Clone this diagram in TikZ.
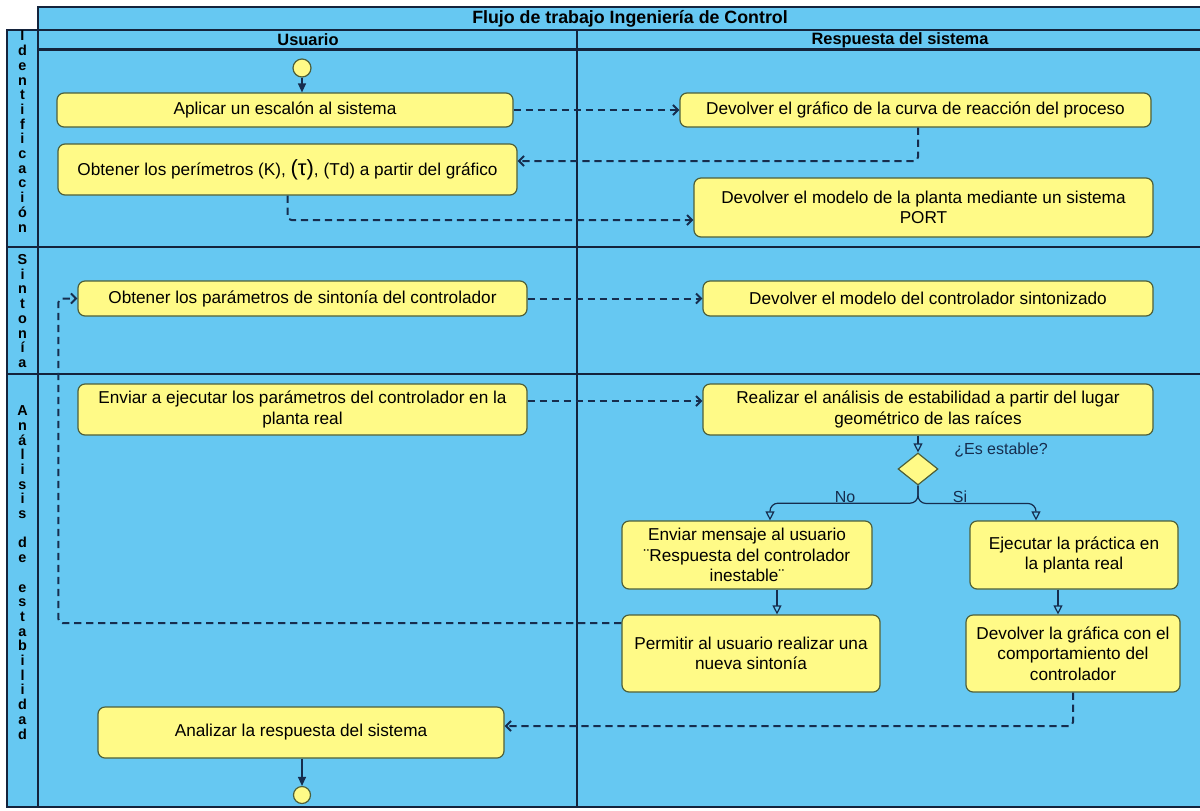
\documentclass[tikz,border=0pt]{standalone}
\usepackage{fontspec}
\setmainfont{Liberation Sans}
\usetikzlibrary{arrows.meta,shapes.geometric}
\definecolor{lanefill}{RGB}{102,200,242}
\definecolor{actfill}{RGB}{255,250,135}
\definecolor{actline}{RGB}{78,96,58}
\definecolor{flowline}{RGB}{22,45,78}
\definecolor{frameline}{RGB}{20,35,60}

\begin{document}
\begin{tikzpicture}[x=0.5pt, y=-0.5pt, semithick,
            act/.style={draw=actline, fill=actfill, rounded corners=3.5pt, align=center, inner sep=0pt, font=\fontsize{8.6}{10.3}\selectfont},
            dot/.style={circle, draw=actline, fill=actfill, inner sep=0pt, minimum size=9pt},
            choice/.style={diamond, draw=actline, fill=actfill, inner sep=0pt, minimum width=20pt, minimum height=16pt},
            msg/.style={draw=flowline, line width=1pt, dash pattern=on 3.6pt off 2.4pt, rounded corners=2pt, -{Straight Barb[length=2.5pt, width=5pt]}},
            ctrl/.style={draw=flowline, line width=0.6pt, rounded corners=4pt, -{Triangle[open, length=4.5pt, width=4.5pt]}},
            init/.style={draw=flowline, line width=0.6pt, -{Triangle[length=4.5pt, width=4pt]}},
            lanelbl/.style={font=\bfseries\fontsize{7.2}{7.35}\selectfont, align=center, inner sep=0pt},
            hdr/.style={font=\bfseries\fontsize{8.2}{9}\selectfont, inner sep=0pt},
            note/.style={font=\fontsize{8}{9}\selectfont, inner sep=0pt, text=flowline}]
            \useasboundingbox (0,0) rectangle (1200,810);
            \clip (0,0) rectangle (1200,810);
            \fill[white] (0,0) rectangle (1200,810);
            \fill[lanefill] (38,7) rectangle (1222,30);
            \fill[lanefill] (7,30) rectangle (1222,807);
            \draw[frameline, line width=0.6pt] (38,7) rectangle (1222,30);
            \draw[frameline, line width=0.6pt] (7,30) rectangle (1222,807);
            \draw[frameline, line width=0.6pt] (38,30) -- (38,807) (577,30) -- (577,807);
            \draw[frameline, line width=1.2pt] (38,49.5) -- (1222,49.5) (7,247) -- (1222,247) (7,374) -- (1222,374);
            \node[hdr, font=\bfseries\fontsize{8.9}{9}\selectfont] (title) at (630,18.5) {Flujo de trabajo Ingeniería de Control};
            \node[hdr] (usr) at (308,40) {Usuario};
            \node[hdr] (sys) at (900,40) {Respuesta del sistema};
            \node[lanelbl] (ident) at (22.5,131.5) {I\\d\\e\\n\\t\\i\\f\\i\\c\\a\\c\\i\\ó\\n};
            \node[lanelbl] (sint) at (22.5,311) {S\\i\\n\\t\\o\\n\\í\\a};
            \node[lanelbl] (anal) at (22.5,572.5) {A\\n\\á\\l\\i\\s\\i\\s\\[7.35pt]d\\e\\[7.35pt]e\\s\\t\\a\\b\\i\\l\\i\\d\\a\\d};
            \node[dot] (start) at (302,68) {};
            \node[act, minimum width=228pt, minimum height=17pt] (A1) at (285,110) {Aplicar un escalón al sistema};
            \node[act, minimum width=235.5pt, minimum height=17pt] (B1) at (915.5,110) {Devolver el gráfico de la curva de reacción del proceso};
            \node[act, minimum width=229.5pt, minimum height=25.5pt] (A2) at (287.5,169.5) {Obtener los perímetros (K), {\fontsize{11}{10}\selectfont(τ)}, (Td) a partir del gráfico};
            \node[act, minimum width=229.5pt, minimum height=29.5pt] (B2) at (923.5,207.5) {Devolver el modelo de la planta mediante un sistema\\PORT};
            \node[act, minimum width=224.5pt, minimum height=17.5pt] (A3) at (302.5,298.5) {Obtener los parámetros de sintonía del controlador};
            \node[act, minimum width=225pt, minimum height=17.5pt] (B3) at (928,298.5) {Devolver el modelo del controlador sintonizado};
            \node[act, minimum width=224.5pt, minimum height=25.5pt] (A4) at (302.5,409.5) {Enviar a ejecutar los parámetros del controlador en la\\planta real};
            \node[act, minimum width=225pt, minimum height=25.5pt] (B4) at (928,409.5) {Realizar el análisis de estabilidad a partir del lugar\\geométrico de las raíces};
            \node[choice] (dia) at (918,469) {};
            \node[note] (q) at (1001,450) {¿Es estable?};
            \node[note] (no) at (845,497) {No};
            \node[note] (si) at (960,497) {Si};
            \node[act, minimum width=125pt, minimum height=34pt] (C1) at (747,555) {Enviar mensaje al usuario\\¨Respuesta del controlador\\inestable¨};
            \node[act, minimum width=104pt, minimum height=34pt] (D1) at (1074,555) {Ejecutar la práctica en\\la planta real};
            \node[act, minimum width=129pt, minimum height=38.5pt] (C2) at (751,653.5) {Permitir al usuario realizar una\\nueva sintonía};
            \node[act, minimum width=107pt, minimum height=38.5pt] (D2) at (1073,653.5) {Devolver la gráfica con el\\comportamiento del\\controlador};
            \node[act, minimum width=203pt, minimum height=25.5pt] (E1) at (301,732.5) {Analizar la respuesta del sistema};
            \node[dot, minimum size=8.5pt] (stop) at (302,795) {};
            \draw[init] (start) -- (start |- A1.north);
            \draw[msg] (A1) -- (B1);
            \draw[msg] ([xshift=1.25pt]B1.south) |- ([yshift=4.25pt]A2.east);
            \draw[msg] (A2.south) |- ([yshift=-6.25pt]B2.west);
            \draw[msg] (A3) -- (B3);
            \draw[msg] ([yshift=4.25pt]A4.east) -- ([yshift=4.25pt]B4.west);
            \draw[ctrl] (dia.north |- B4.south) -- (dia.north);
            \draw[ctrl] (dia.south) |- (no.south -| 770,0) -- ([xshift=11.5pt]C1.north);
            \draw[ctrl] (dia.south) |- (si.south -| 1036,0) -- ([xshift=-19pt]D1.north);
            \draw[ctrl] ([xshift=15pt]C1.south) -- ([xshift=15pt]C1.south |- C2.north);
            \draw[ctrl] ([xshift=-8pt]D1.south) -- ([xshift=-8pt]D1.south |- D2.north);
            \draw[msg] ([yshift=15.25pt]C2.west) -| ([xshift=-9.5pt]A3.west) -- (A3.west);
            \draw[msg] (D2.south) |- ([yshift=3.25pt]E1.east);
            \draw[init] (E1.south -| stop) -- (stop);
        \end{tikzpicture}
\end{document}
